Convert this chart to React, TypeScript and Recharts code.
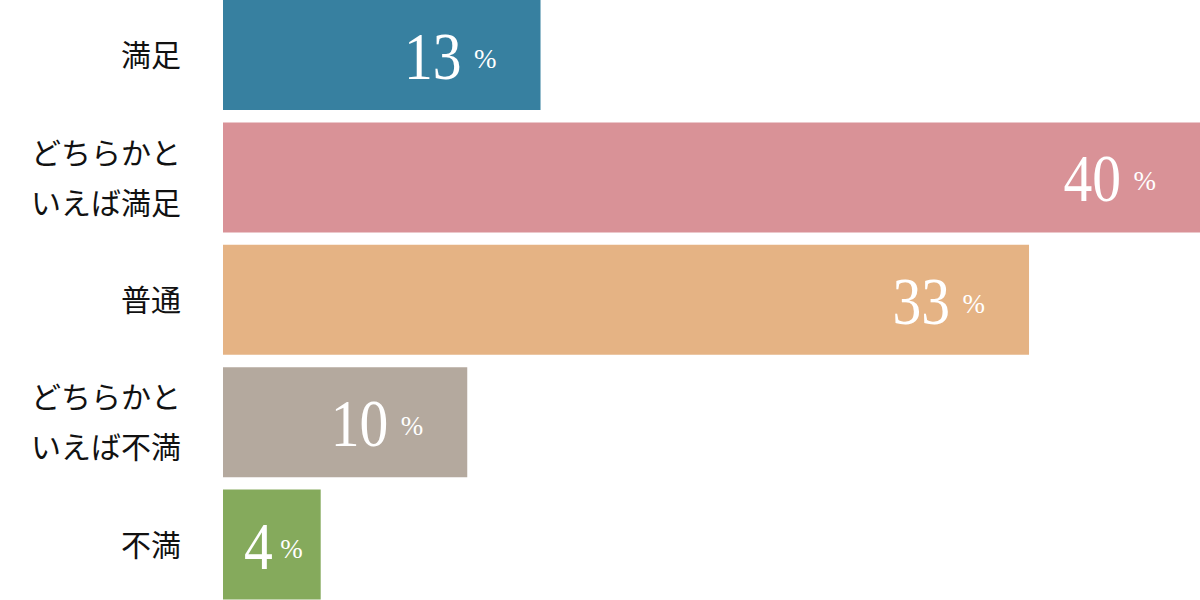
import { BarChart, Bar, XAxis, YAxis, Cell, LabelList } from "recharts";

const categories = ["満足", "どちらかと\nいえば満足", "普通", "どちらかと\nいえば不満", "不満"];
const values = [13, 40, 33, 10, 4];
const barColors = ["#3780a0", "#d99297", "#e5b384", "#b4a99e", "#85aa5c"];

const data = categories.map((name, i) => ({ name, value: values[i] }));

const NUM_FONT = '"Liberation Serif", "DejaVu Serif", serif';
const JP_FONT = '"Noto Sans CJK JP", sans-serif';

function CategoryTick(props: any) {
  const { y, payload } = props;
  const lines = String(payload.value).split("\n");
  const lineH = 50;
  const start = y - ((lines.length - 1) * lineH) / 2;
  return (
    <g>
      {lines.map((line, i) => (
        <text
          key={i}
          x={181}
          y={start + i * lineH}
          dy={11}
          textAnchor="end"
          fontSize={30}
          fontFamily={JP_FONT}
          fill="#111"
        >
          {line}
        </text>
      ))}
    </g>
  );
}

function ValueLabel(props: any) {
  const { x, y, width, height, value } = props;
  const cy = y + height / 2;
  const barEnd = x + width;
  let pctEnd = barEnd - 44;
  let numEnd = barEnd - 79;
  if (width < 140) {
    const cx = x + width / 2;
    pctEnd = cx + 31;
    numEnd = pctEnd - 30;
  }
  return (
    <g>
      <text
        transform={`translate(${numEnd},${cy + 24}) scale(0.86,1)`}
        x={0}
        y={0}
        textAnchor="end"
        fontSize={67}
        fontFamily={NUM_FONT}
        fill="#fff"
      >
        {value}
      </text>
      <text
        x={pctEnd}
        y={cy + 13}
        textAnchor="end"
        fontSize={27}
        fontFamily={NUM_FONT}
        fill="#fff"
      >
        %
      </text>
    </g>
  );
}

export default function App() {
  return (
    <div
      style={{
        position: "absolute",
        left: 0,
        top: 0,
        width: 1200,
        height: 600,
        overflow: "hidden",
        background: "#fff",
      }}
    >
      <div style={{ marginTop: -6 }}>
        <BarChart
          width={1200}
          height={612}
          data={data}
          layout="vertical"
          margin={{ top: 0, right: 0, bottom: 0, left: 0 }}
        >
          <XAxis type="number" domain={[0, 40]} hide />
          <YAxis
            type="category"
            dataKey="name"
            width={223}
            axisLine={false}
            tickLine={false}
            tick={<CategoryTick />}
            interval={0}
          />
          <Bar dataKey="value" barSize={110} isAnimationActive={false}>
            {data.map((_, i) => (
              <Cell key={i} fill={barColors[i]} />
            ))}
            <LabelList dataKey="value" content={<ValueLabel />} />
          </Bar>
        </BarChart>
      </div>
    </div>
  );
}
